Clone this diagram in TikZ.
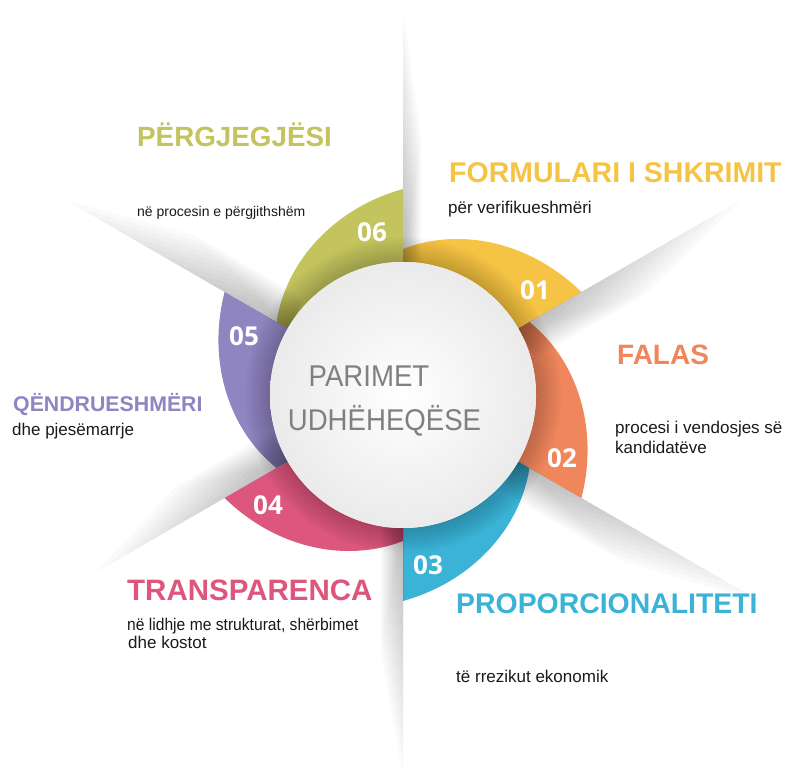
\documentclass[tikz,border=0pt]{standalone}
\usepackage{fontspec}
\setmainfont{Liberation Sans}
\newfontfamily\numfont{Open Sans}
\definecolor{cgreen}{HTML}{C4C45E}
\definecolor{cyellow}{HTML}{F6C445}
\definecolor{corange}{HTML}{EF865C}
\definecolor{cblue}{HTML}{3BB3D6}
\definecolor{cpink}{HTML}{DC567D}
\definecolor{cpurple}{HTML}{8F85C1}
\definecolor{ctext}{HTML}{1A1A1A}
\definecolor{cgrey}{HTML}{808080}
\newcommand\ringseg[2]{%
  \fill[#2] plot[domain=0:1, samples=40] ({#1+60-60*\x}:{146+60*\x})
    -- (#1:120) arc[start angle=#1, end angle=#1+60, radius=120] -- cycle;}
\newcommand\bladeshadow[3]{%
  \begin{scope}[rotate=#1]
    \foreach \k in {1,...,14}{%
      \fill[black, opacity=0.02] (133,0) -- ({133+(#2-133)*\k/14},0)
        -- ({133+(#2-133)*\k/28},{-#3*\k/14}) -- (133,{-#3*\k/14}) -- cycle;}
  \end{scope}}
\tikzset{
  title/.style={anchor=base west, inner sep=0pt, font=\bfseries\fontsize{#1}{#1}\selectfont},
  body/.style={anchor=base west, inner sep=0pt, text=ctext, font=\fontsize{#1}{#1}\selectfont},
  body/.default=17,
  numlabel/.style={text=white, inner sep=0pt, font=\numfont\bfseries\fontsize{26}{26}\selectfont},
  hubtext/.style={anchor=base, inner sep=0pt, text=cgrey, xscale=0.92, font=\fontsize{30}{30}\selectfont}
}
\begin{document}
\begin{tikzpicture}[x=1pt,y=1pt]
\useasboundingbox (0,0) rectangle (786,777);
\fill[white] (0,0) rectangle (786,777);
\begin{scope}[shift={(403,382)}]
  % coloured ring segments
  \ringseg{90}{cgreen}
  \ringseg{30}{cyellow}
  \ringseg{-30}{corange}
  \ringseg{-90}{cblue}
  \ringseg{-150}{cpink}
  \ringseg{150}{cpurple}
  % soft shadow of the hub
  \foreach \k in {1,...,10}{\fill[black, opacity=0.02] (0,0) circle ({133+2.5*\k});}
  % blade shadows
  \bladeshadow{90}{385}{18}
  \bladeshadow{30}{391}{34}
  \bladeshadow{-30}{417}{34}
  \bladeshadow{-90}{382}{22}
  \bladeshadow{-150}{354}{34}
  \bladeshadow{150}{390}{34}
  % hub
  \fill[white] (0,0) circle (133);
  \shade[inner color=white, outer color=black!8] (0,0) circle (133);
\end{scope}
% hub text
\node[hubtext] (hub1) at (369,390) {PARIMET};
\node[hubtext] (hub2) at (384.5,347) {UDHËHEQËSE};
% numbers
\node[numlabel] (n6) at (372,545) {06};
\node[numlabel] (n1) at (535,487) {01};
\node[numlabel] (n2) at (562,319) {02};
\node[numlabel] (n3) at (428,212) {03};
\node[numlabel] (n4) at (268,272) {04};
\node[numlabel] (n5) at (244,441) {05};
% titles and descriptions
\node[title=27.8, text=cgreen] (t6) at (137,630) {PËRGJEGJËSI};
\node[body=14] (d6) at (137,560) {në procesin e përgjithshëm};
\node[title=28.5, text=cyellow] (t1) at (449,594) {FORMULARI I SHKRIMIT};
\node[body] (d1) at (448,563) {për verifikueshmëri};
\node[title=28, text=corange] (t2) at (617,412) {FALAS};
\node[body] (d2a) at (615,344) {procesi i vendosjes së};
\node[body] (d2b) at (615,324) {kandidatëve};
\node[title=28.4, text=cblue] (t3) at (456,164) {PROPORCIONALITETI};
\node[body] (d3) at (456,95) {të rrezikut ekonomik};
\node[title=29.5, text=cpink] (t4) at (127,177) {TRANSPARENCA};
\node[body, xscale=0.92] (d4a) at (127,147) {në lidhje me strukturat, shërbimet};
\node[body] (d4b) at (128,129) {dhe kostot};
\node[title=21.3, text=cpurple] (t5) at (13,366) {QËNDRUESHMËRI};
\node[body] (d5) at (12,342) {dhe pjesëmarrje};
\end{tikzpicture}
\end{document}
